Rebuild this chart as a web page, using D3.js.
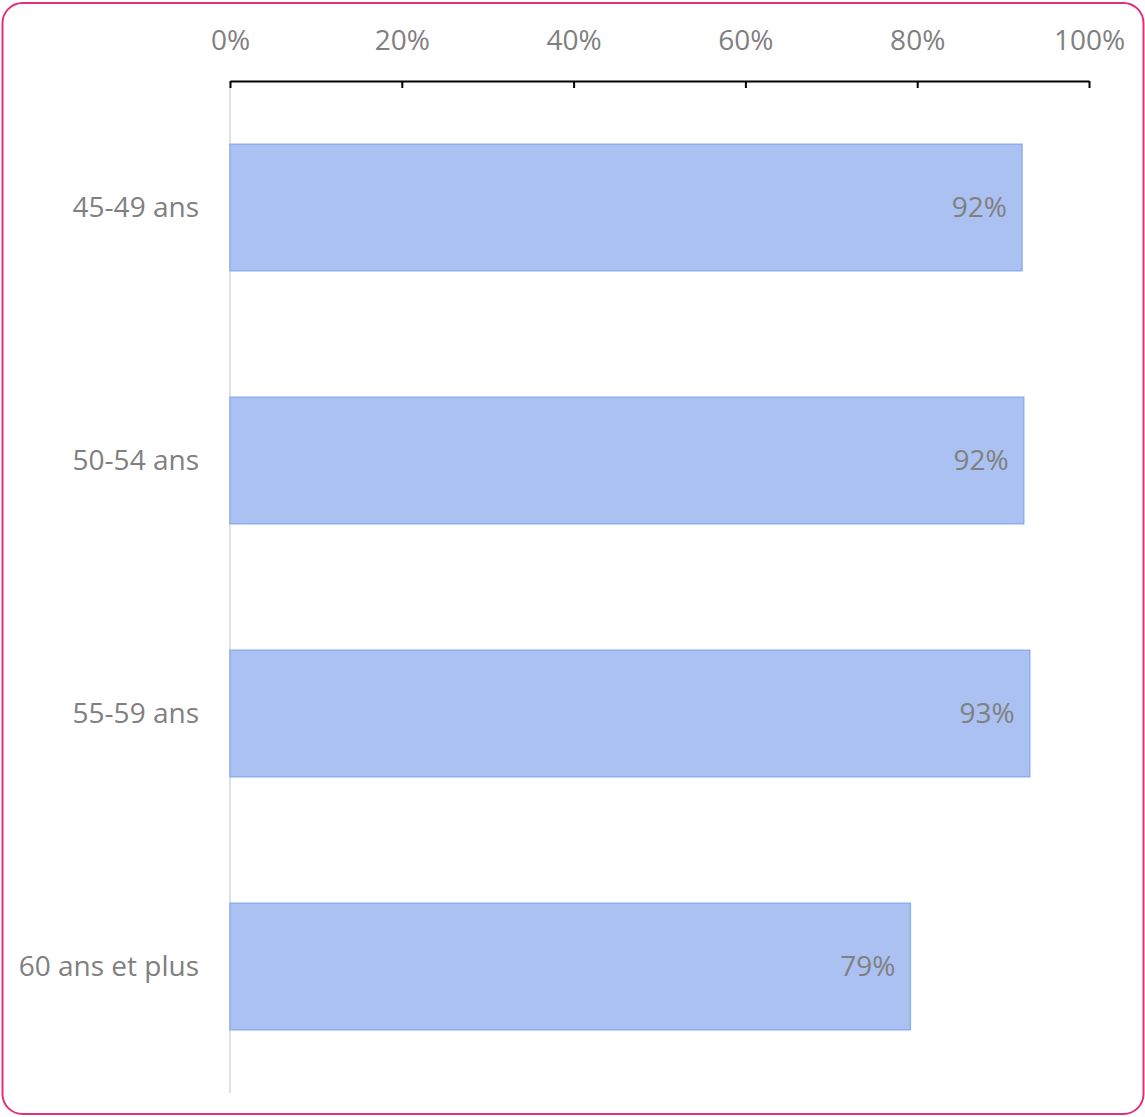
<!DOCTYPE html>
<html><head><meta charset="utf-8">
<script src="https://cdn.jsdelivr.net/npm/d3@7"></script>
<style>body{margin:0;background:#fff;}svg{display:block;}</style>
</head><body>
<svg id="c" width="1145" height="1117"></svg>
<script>
const categories = ["45-49 ans", "50-54 ans", "55-59 ans", "60 ans et plus"];
const values = [0.922, 0.924, 0.931, 0.792];
const labels = ["92%", "92%", "93%", "79%"];
const tickValues = [0, 0.2, 0.4, 0.6, 0.8, 1.0];

const svg = d3.select("#c");
const font = "'Open Sans', 'Liberation Sans', sans-serif";
const fs = 28;
svg.append("rect").attr("x", 2.5).attr("y", 3).attr("width", 1141).attr("height", 1111)
  .attr("rx", 20).attr("fill", "#fff").attr("stroke", "#E0307A").attr("stroke-width", 2);

const pLeft = 230, pRight = 1089, pTop = 81, pBottom = 1093;
const x = d3.scaleLinear().domain([0, 1]).range([pLeft, pRight]);
const y = d3.scaleBand().domain(categories).range([pTop, pBottom]).paddingInner(0.5).paddingOuter(0.25);

svg.append("line").attr("x1", pLeft).attr("x2", pLeft).attr("y1", pTop).attr("y2", pBottom)
  .attr("stroke", "#d9d9d9").attr("stroke-width", 1.5);

svg.selectAll("rect.bar").data(values).join("rect").attr("class", "bar")
  .attr("x", x(0)).attr("y", (d, i) => y(categories[i]))
  .attr("width", d => x(d) - x(0)).attr("height", y.bandwidth())
  .attr("fill", "#ABC1F2").attr("stroke", "#8FAEF0").attr("stroke-width", 1.5);

svg.selectAll("text.val").data(values).join("text").attr("class", "val")
  .attr("x", d => x(d) - 15).attr("y", (d, i) => y(categories[i]) + y.bandwidth() / 2)
  .attr("dy", "0.35em").attr("text-anchor", "end")
  .attr("font-family", font).attr("font-size", fs).attr("fill", "#808080")
  .text((d, i) => labels[i]);

svg.selectAll("text.cat").data(categories).join("text").attr("class", "cat")
  .attr("x", 199).attr("y", d => y(d) + y.bandwidth() / 2)
  .attr("dy", "0.35em").attr("text-anchor", "end")
  .attr("font-family", font).attr("font-size", fs).attr("fill", "#808080")
  .text(d => d);

const axis = d3.axisTop(x).tickValues(tickValues).tickFormat(d3.format(".0%")).tickSize(-7).tickPadding(31).tickSizeOuter(0);
const g = svg.append("g").attr("transform", `translate(0,${pTop})`).call(axis);
g.select(".domain").attr("stroke", "#000").attr("stroke-width", 2);
g.selectAll(".tick line").attr("stroke", "#000").attr("stroke-width", 2);
g.selectAll(".tick text").attr("font-family", font).attr("font-size", fs).attr("fill", "#808080");
</script>
</body></html>
